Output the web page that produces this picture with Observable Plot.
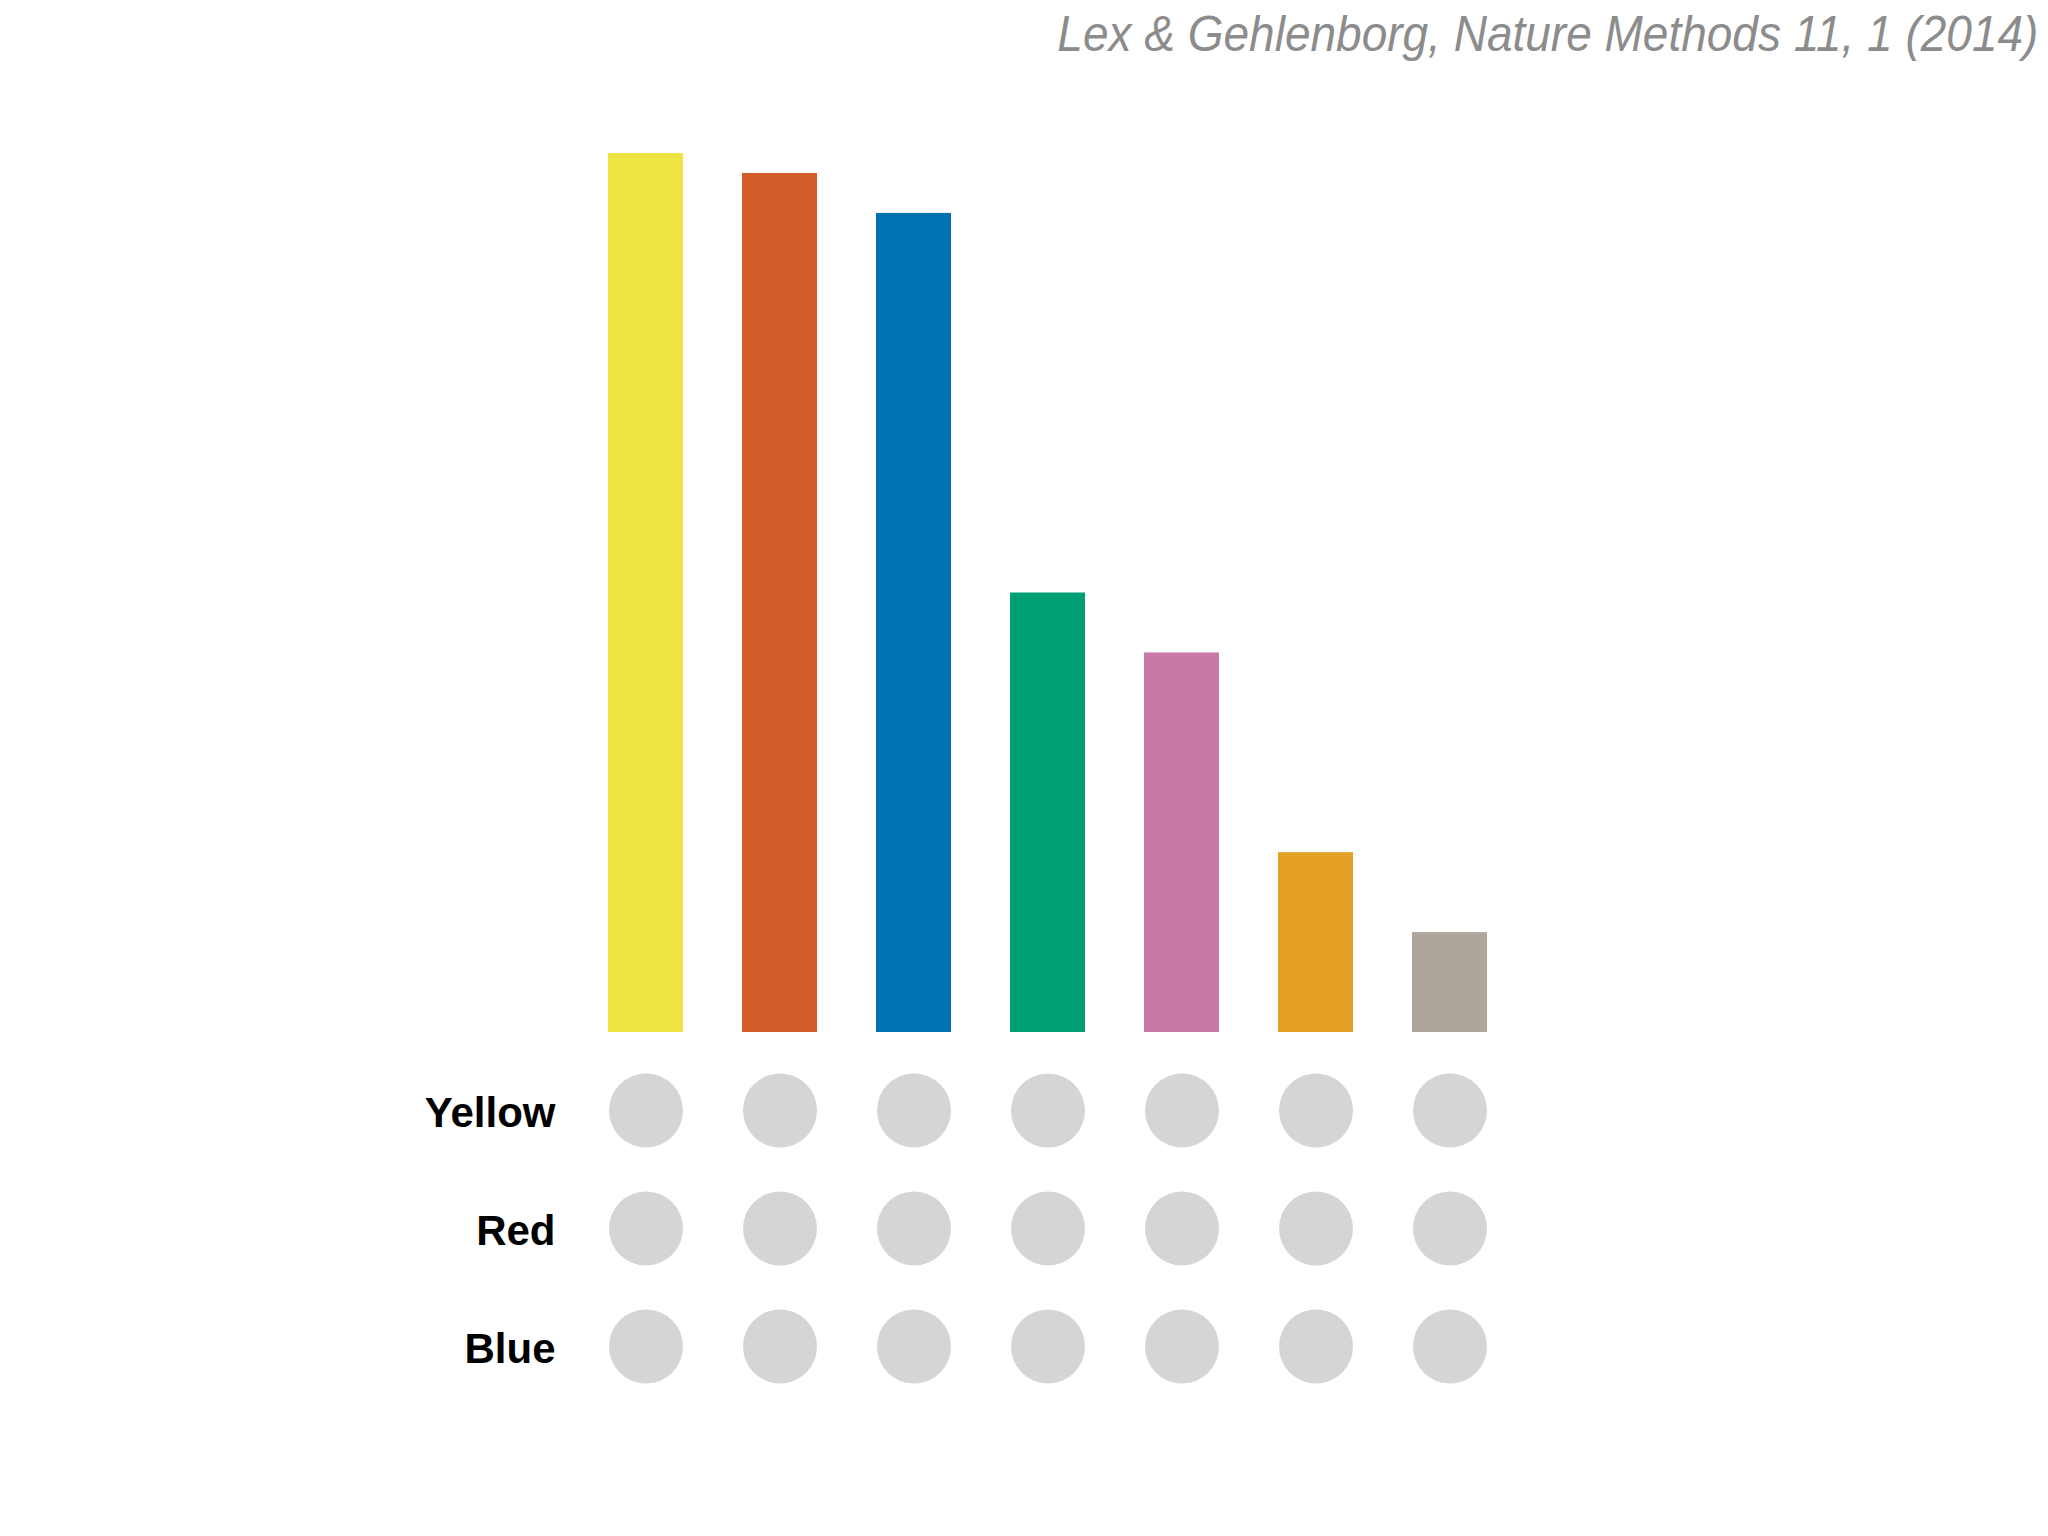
<!DOCTYPE html>
<html>
<head>
<meta charset="utf-8">
<script src="https://cdn.jsdelivr.net/npm/d3@7"></script>
<script src="https://cdn.jsdelivr.net/npm/@observablehq/plot@0.6"></script>
<style>
  html, body { margin: 0; padding: 0; background: #ffffff; }
  #wrap { position: relative; width: 2048px; height: 1536px; background: #ffffff; overflow: hidden; }
  #caption {
    position: absolute; right: 10px; top: 5px;
    font-family: "Liberation Sans", Arial, sans-serif;
    font-style: italic; font-size: 50px; color: #8c8c8c; white-space: nowrap;
    transform: scaleX(0.92); transform-origin: right center;
  }
  #bars { position: absolute; left: 0; top: 0; }
  #matrix { position: absolute; left: 0; top: 1032px; }
</style>
</head>
<body>
<div id="wrap">
  <div id="bars"></div>
  <div id="matrix"></div>
  <div id="caption"></div>
</div>
<script>
// Data
const intersections = ["I1", "I2", "I3", "I4", "I5", "I6", "I7"];
const sizes = [88, 86, 82, 44, 38, 18, 10];
const barColors = ["#eee443", "#d35c2b", "#0071b1", "#009e73", "#ca78a7", "#e49f25", "#aea69a"];
const sets = ["Yellow", "Red", "Blue"];
const caption = "Lex & Gehlenborg, Nature Methods 11, 1 (2014)";

document.getElementById("caption").textContent = caption;

const barData = intersections.map((k, i) => ({key: k, size: sizes[i], color: barColors[i]}));
const dotData = [];
for (const s of sets) for (const k of intersections) dotData.push({key: k, set: s});

const W = 2048;
const mL = 548, mR = 502;
const xOpts = {type: "band", domain: intersections, padding: 0.443, axis: null};

const bars = Plot.plot({
  width: W, height: 1032,
  marginLeft: mL, marginRight: mR, marginTop: 153, marginBottom: 0,
  x: xOpts,
  y: {domain: [0, 88], axis: null},
  marks: [
    Plot.barY(barData, {x: "key", y: "size", fill: "color"})
  ]
});
document.getElementById("bars").appendChild(bars);

const matrix = Plot.plot({
  width: W, height: 504,
  marginLeft: mL, marginRight: mR, marginTop: 19, marginBottom: 131,
  x: xOpts,
  y: {type: "point", domain: sets, padding: 0.5, axis: null, label: null},
  style: {fontFamily: "Liberation Sans, Arial, sans-serif"},
  marks: [
    Plot.dot(dotData, {x: "key", y: "set", r: 37, fill: "#d5d4d7"}),
    Plot.axisY({tickSize: 0, tickPadding: 0, dx: 7, dy: 3, label: null, fontSize: 42, fontWeight: "bold", fill: "#000"})
  ]
});
document.getElementById("matrix").appendChild(matrix);
</script>
</body>
</html>
